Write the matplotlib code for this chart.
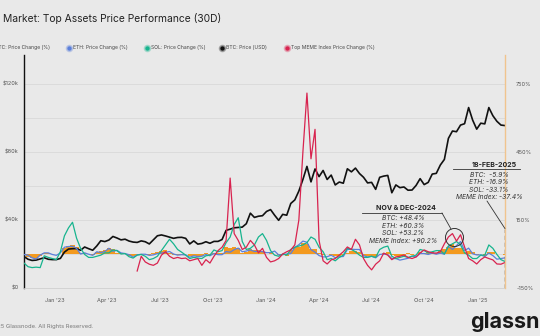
import numpy as np
import pandas as pd
import matplotlib.pyplot as plt
import matplotlib.dates as mdates
from matplotlib.lines import Line2D
from matplotlib.ticker import FuncFormatter

plt.rcParams['font.family'] = ['Inter', 'DejaVu Sans']

# weekly samples (Tuesdays), 8 Nov 2022 .. 18 Feb 2025
dates = pd.date_range('2022-11-08', '2025-02-18', freq='7D')

# BTC price, USD thousands
btc_price_k = [
    18.5, 16.9, 16.2, 16.4, 17.1, 17.8, 16.9, 16.7, 16.7, 17.4,
    21.1, 22.9, 23.1, 23.2, 22.2, 24.1, 23.1, 22.2, 24.7, 27.8,
    27.3, 28.2, 30.3, 29.4, 28.3, 28.7, 27.6, 27.0, 26.8, 27.7,
    27.2, 25.9, 28.3, 30.7, 31.2, 30.6, 29.9, 29.2, 29.7, 29.8,
    29.2, 25.9, 27.7, 25.8, 26.2, 27.2, 26.3, 27.4, 27.4, 28.5,
    33.9, 34.6, 35.4, 35.6, 35.8, 37.8, 44.0, 41.5, 42.2, 42.5,
    45.0, 46.1, 42.8, 39.8, 43.3, 42.8, 49.7, 51.8, 57.0, 63.8,
    71.5, 62.4, 70.0, 65.5, 69.1, 63.8, 66.4, 60.6, 62.3, 61.6,
    70.1, 68.3, 70.5, 67.3, 65.1, 61.8, 62.1, 58.0, 65.1, 65.8,
    66.2, 56.0, 60.6, 59.0, 59.4, 57.5, 57.6, 60.3, 64.3, 60.8,
    62.1, 67.0, 67.4, 72.3, 75.6, 88.0, 92.3, 91.9, 95.8, 96.6,
    106.1, 98.7, 93.4, 96.9, 96.5, 106.1, 101.3, 98.0, 95.8, 95.5,
]

# 30D price change, %
btc_change = [
    -5, -12, -19, -20, -8, 5, 4, 2, -2, -2,
    25, 37, 38, 33, 5, 5, 0, -4, 11, 15,
    18, 27, 23, 6, 4, 2, -9, -8, -5, -3,
    -1, -4, 6, 11, 15, 18, 6, -5, -5, -3,
    -2, -11, -7, -13, -10, 5, -5, 6, 5, 5,
    29, 26, 29, 25, 6, 9, 24, 17, 18, 12,
    2, 11, 1, -6, -4, -7, 16, 30, 32, 49,
    44, 20, 23, 3, -3, 2, -5, -7, -10, -3,
    6, 13, 13, 9, -7, -10, -12, -14, 0, 6,
    7, -3, -7, -10, -10, 3, -5, 2, 8, 6,
    8, 11, 5, 19, 22, 31, 45, 27, 27, 10,
    15, 7, -3, 0, -9, 7, 8, 1, -1, -5.9,
]

eth_change = [
    -2, -5, -17, -22, -5, 5, 5, -2, -6, 5,
    30, 33, 34, 25, 0, 5, -1, -6, 10, 6,
    11, 25, 12, 16, 5, 2, -3, -14, -4, -1,
    -1, -6, -4, 2, 4, 7, 11, 0, -5, -3,
    -4, -14, -8, -11, -10, -2, -8, 2, -3, -3,
    11, 8, 19, 26, 10, 13, 18, 11, 12, 10,
    6, 6, 13, -4, -3, 0, 2, 29, 41, 57,
    52, 19, 8, -7, -13, -12, -5, -16, -12, -11,
    20, 21, 20, 20, -7, -13, -10, -17, -2, 0,
    -3, -20, -20, -27, -23, -19, -9, -13, 2, 2,
    -2, 4, -1, 4, -1, 34, 20, 37, 55, 15,
    26, 1, -4, -4, -11, 4, -7, -23, -20, -16.9,
]

sol_change = [
    -40, -56, -60, -58, -60, -8, -15, -20, -25, 10,
    80, 115, 140, 70, 25, -2, -15, -15, -10, -5,
    5, 5, 18, 15, 0, 2, -12, -18, -5, -2,
    -10, -25, -20, -10, 15, 40, 65, 45, 20, 8,
    -5, -20, -15, -18, -20, -8, -5, 18, 10, 15,
    50, 75, 130, 160, 55, 20, 25, 40, 75, 90,
    60, 15, -5, -10, 0, -5, 20, 30, 35, 40,
    50, 75, 65, 30, 10, -25, -20, -30, -15, -5,
    25, 20, 10, -5, -15, -15, -10, -15, 20, 30,
    35, -10, -20, -15, -10, -15, -10, -5, 20, 15,
    5, 10, 15, 15, 0, 35, 45, 55, 40, 5,
    -5, -20, -20, -5, -5, 40, 25, -2, -25, -33.1,
]

# Top MEME index starts in May 2023
meme_dates = pd.date_range('2023-05-23', '2025-02-18', freq='7D')
meme_change = [
    -75, -10, -35, -45, -50, -40, -5, 10, -10, -20,
    -15, -20, -18, -30, -25, -20, -50, -25, -40, -10,
    15, 30, 60, 335, 90, 60, 20, 30, 60, 40,
    5, 25, -15, -35, -30, -20, 0, 10, 18, 40,
    150, 450, 710, 420, 550, 60, -30, -44, -26, -20,
    -5, 10, 31, 20, 65, 40, -20, -50, -70, -45,
    -30, 4, -5, -25, -13, -10, -4, -15, -20, -13,
    5, 18, 10, 5, 4, 10, 45, 75, 90, 57,
    85, 31, -20, -30, -44, -25, -13, -20, -26, -44,
    -45, -37.4,
]

BG = '#e9e9e9'
ORANGE = '#f39a1f'
BLUE = '#5b7fdb'
TEAL = '#17b48e'
RED = '#d8234f'
TXT = '#555555'

W, H = 540, 336


def fx(x):
    return x / W


def fy(y):
    return 1 - y / H


fig = plt.figure(figsize=(5.4, 3.36), dpi=100)
fig.patch.set_facecolor(BG)

rect = [fx(24), fy(288), (505 - 24) / W, (288 - 55) / H]
axb = fig.add_axes(rect)
axb.set_facecolor(BG)
axb.bar(dates, btc_change, width=7, color=ORANGE, linewidth=0)
axb.set_ylim(-150, 878)
axb.set_yticks(np.arange(-150, 751, 150))
axb.tick_params(axis='y', length=0, labelleft=False, labelright=False)
axb.grid(axis='y', color='#d9d9d9', lw=0.6)
axb.set_axisbelow(True)
axb.set_xlim(dates[0], dates[-1])
axb.xaxis.set_major_locator(mdates.MonthLocator(bymonth=[1, 4, 7, 10]))
axb.xaxis.set_major_formatter(mdates.DateFormatter("%b '%y"))
axb.tick_params(axis='x', length=0, pad=7, labelsize=4, labelcolor=TXT)
for s in ['top', 'right']:
    axb.spines[s].set_visible(False)
axb.spines['left'].set_color('#111111')
axb.spines['left'].set_linewidth(1)
axb.spines['bottom'].set_color('#cfcfcf')
axb.spines['bottom'].set_linewidth(0.6)

# BTC price on the left axis
ax = axb.twinx()
ax.plot(dates, btc_price_k, color='#111111', lw=1.2)
ax.set_ylim(0, 137)
ax.yaxis.tick_left()
ax.set_yticks([0, 40, 80, 120])
ax.yaxis.set_major_formatter(FuncFormatter(lambda v, p: '$0' if v == 0 else f'${v:.0f}k'))
ax.tick_params(axis='y', length=0, pad=4, labelsize=4, labelcolor=TXT)
for s in ax.spines.values():
    s.set_visible(False)

# price change lines on the right axis
ax2 = axb.twinx()
ax2.plot(dates, eth_change, color=BLUE, lw=0.9)
ax2.plot(dates, sol_change, color=TEAL, lw=0.9)
ax2.plot(meme_dates, meme_change, color=RED, lw=0.9)
ax2.set_ylim(-150, 878)
ax2.set_yticks([-150, 150, 450, 750])
ax2.yaxis.set_major_formatter(FuncFormatter(lambda v, p: f'{v:.0f}%'))
ax2.tick_params(axis='y', length=0, pad=8, labelsize=4, labelcolor=TXT)
for s in ['top', 'left', 'bottom']:
    ax2.spines[s].set_visible(False)
ax2.spines['right'].set_color('#f0c48e')
ax2.spines['right'].set_linewidth(1)

# last-day marker and highlighted period
ax2.vlines(dates[-1], -150, 112, colors='#222222', linestyles=(0, (3, 2)), lw=1)
ax2.plot(pd.Timestamp('2024-11-21'), 73, 'o', ms=13, mfc='none', mec='#333333', mew=0.7)

# title, legend, footer
fig.text(fx(3), fy(18), 'Market: Top Assets Price Performance (30D)',
         fontsize=7.4, color='#222222', va='center')

legend_items = [
    (-9, ORANGE, 'BTC: Price Change (%)'),
    (69, BLUE, 'ETH: Price Change (%)'),
    (147, TEAL, 'SOL: Price Change (%)'),
    (222, '#111111', 'BTC: Price (USD)'),
    (287, RED, 'Top MEME Index Price Change (%)'),
]
for lx, c, lab in legend_items:
    fig.add_artist(Line2D([fx(lx)], [fy(48)], marker='o', ms=4.5, color=c, alpha=0.25,
                          lw=0, transform=fig.transFigure))
    fig.add_artist(Line2D([fx(lx)], [fy(48)], marker='o', ms=2.2, color=c,
                          lw=0, transform=fig.transFigure))
    fig.text(fx(lx + 4), fy(48), lab, fontsize=3.6, color='#444444', va='center')

fig.text(fx(-17), fy(326), '\u00a9 2025 Glassnode. All Rights Reserved.',
         fontsize=4.2, color='#777777', va='center')
fig.text(fx(470), fy(322), 'glassnode', fontsize=15.5, fontweight='bold',
         color='#1a1a1a', va='center')

# annotation: Nov & Dec 2024
fig.text(fx(406), fy(208), 'NOV & DEC-2024', fontsize=5, fontweight='bold',
         color='#222222', ha='center', va='center')
fig.add_artist(Line2D([fx(362), fx(442)], [fy(213), fy(213)], color='#333333', lw=0.6,
                      transform=fig.transFigure))
for i, t in enumerate(['BTC: +48.4%', 'ETH: +60.3%', 'SOL: +53.2%', 'MEME Index: +90.2%']):
    fig.text(fx(403), fy(218 + 7.6 * i), t, fontsize=4.8, style='italic',
             color='#333333', ha='center', va='center')
fig.add_artist(Line2D([fx(442), fx(451)], [fy(213), fy(229)], color='#333333', lw=0.6,
                      transform=fig.transFigure))

# annotation: 18 Feb 2025
fig.text(fx(494), fy(165), '18-FEB-2025', fontsize=5, fontweight='bold',
         color='#222222', ha='center', va='center')
fig.add_artist(Line2D([fx(453), fx(520)], [fy(169), fy(169)], color='#333333', lw=0.6,
                      transform=fig.transFigure))
for i, t in enumerate(['BTC:  -5.9%', 'ETH: -16.9%', 'SOL: -33.1%', 'MEME Index: -37.4%']):
    fig.text(fx(489), fy(175 + 7.4 * i), t, fontsize=4.8, style='italic',
             color='#333333', ha='center', va='center')
ax2.annotate('', xy=(dates[-1], 112), xycoords='data',
             xytext=(fx(487), fy(201)), textcoords='figure fraction',
             arrowprops=dict(arrowstyle='-', color='#333333', lw=0.6, shrinkA=0, shrinkB=0))

fig.savefig('out.png', dpi=100, facecolor=BG)
